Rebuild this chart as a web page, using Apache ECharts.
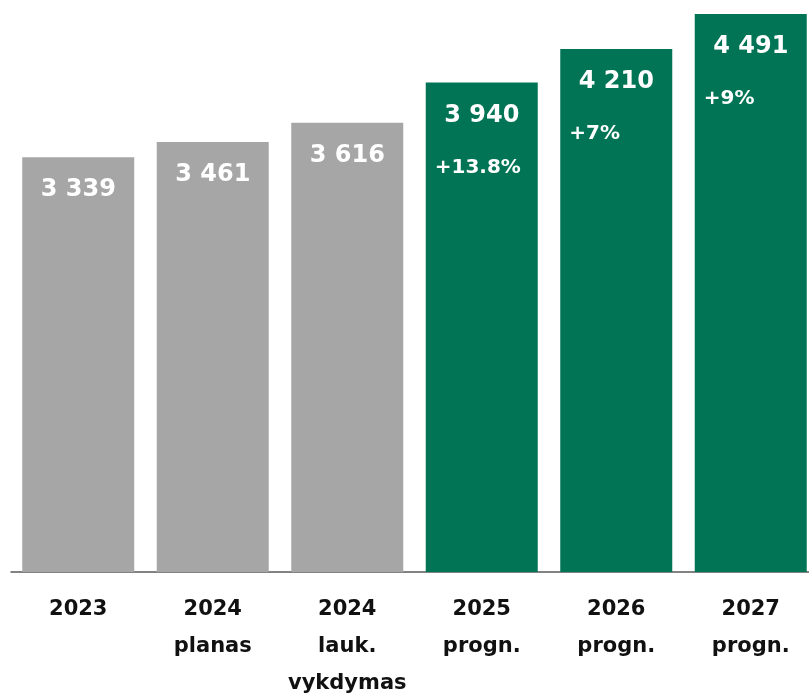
<!DOCTYPE html>
<html>
<head>
<meta charset="utf-8">
<script src="https://cdn.jsdelivr.net/npm/echarts@6/dist/echarts.min.js"></script>
<style>
html,body{margin:0;padding:0;background:#fff;}
#chart{width:809px;height:694px;}
</style>
</head>
<body>
<div id="chart"></div>
<script>
const categories = ['2023\n', '2024\nplanas', '2024\nlauk.\nvykdymas', '2025\nprogn.', '2026\nprogn.', '2027\nprogn.'];
const values = [3339, 3461, 3616, 3940, 4210, 4491];
const valueLabels = ['3 339', '3 461', '3 616', '3 940', '4 210', '4 491'];
const growthLabels = ['', '', '', '+13.8%', '+7%', '+9%'];
const isForecast = [false, false, false, true, true, true];

const GREY = '#A6A6A6';
const GREEN = '#007455';
const FONT = 'DejaVu Sans';

const chart = echarts.init(document.getElementById('chart'), null, {renderer: 'canvas'});

const data = values.map((v, i) => ({
  value: v,
  itemStyle: {color: isForecast[i] ? GREEN : GREY}
}));

chart.setOption({
  animation: false,
  grid: {left: 11, width: 807, top: 13, bottom: 122, containLabel: false, outerBoundsMode: 'none'},
  xAxis: {
    type: 'category',
    data: categories,
    axisLine: {show: true, lineStyle: {color: '#595959', width: 1.5}},
    axisTick: {show: false},
    axisLabel: {
      interval: 0,
      margin: 19,
      color: '#111',
      fontFamily: FONT,
      fontWeight: 'bold',
      fontSize: 21,
      lineHeight: 37
    }
  },
  yAxis: {
    type: 'value',
    min: 0,
    max: 4500,
    show: false,
    splitLine: {show: false}
  },
  series: [{
    type: 'bar',
    data: data,
    barWidth: 112,
    label: {
      show: true,
      position: 'insideTop',
      distance: 15,
      formatter: p => {
        const g = growthLabels[p.dataIndex];
        return '{v|' + valueLabels[p.dataIndex] + '}' + (g ? '\n{p|' + g + '}' : '');
      },
      rich: {
        v: {
          color: '#fff', fontFamily: FONT, fontWeight: 'bold', fontSize: 24,
          lineHeight: 36, width: 94, align: 'center'
        },
        p: {
          color: '#fff', fontFamily: FONT, fontWeight: 'bold', fontSize: 20,
          lineHeight: 68, width: 94, align: 'left'
        }
      }
    }
  }]
});
</script>
</body>
</html>
